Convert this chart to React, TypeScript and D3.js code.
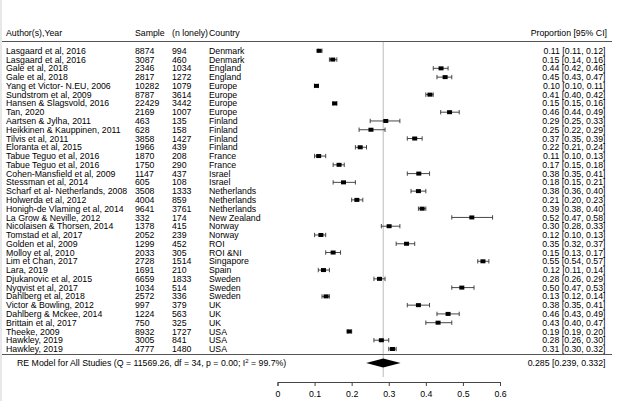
import { useEffect, useRef } from "react";
import * as d3 from "d3";

// study table
const authors = [
  "Lasgaard et al, 2016", "Lasgaard et al, 2016", "Gale et al, 2018", "Gale et al, 2018",
  "Yang et Victor- N.EU, 2006", "Sundstrom et al, 2009", "Hansen & Slagsvold, 2016", "Tan, 2020",
  "Aartsen & Jylha, 2011", "Heikkinen & Kauppinen, 2011", "Tilvis et al, 2011", "Eloranta et al, 2015",
  "Tabue Teguo et al, 2016", "Tabue Teguo et al, 2016", "Cohen-Mansfield et al, 2009", "Stessman et al, 2014",
  "Scharf et al- Netherlands, 2008", "Holwerda et al, 2012", "Honigh-de Vlaming et al, 2014", "La Grow & Neville, 2012",
  "Nicolaisen & Thorsen, 2014", "Tomstad et al, 2017", "Golden et al, 2009", "Molloy et al, 2010",
  "Lim et Chan, 2017", "Lara, 2019", "Djukanovic et al, 2015", "Nyqvist et al, 2017",
  "Dahlberg et al, 2018", "Victor & Bowling, 2012", "Dahlberg & Mckee, 2014", "Brittain et al, 2017",
  "Theeke, 2009", "Hawkley, 2019", "Hawkley, 2019",
];
const samples = [
  8874, 3087, 2346, 2817, 10282, 8787, 22429, 2169, 463, 628, 3858, 1966, 1870, 1750, 1147, 605, 3508, 4004,
  9641, 332, 1378, 2052, 1299, 2033, 2728, 1691, 6659, 1034, 2572, 997, 1224, 750, 8932, 3005, 4777,
];
const nLonely = [
  994, 460, 1034, 1272, 1079, 3614, 3442, 1007, 135, 158, 1427, 439, 208, 290, 437, 108, 1333, 859,
  3761, 174, 415, 239, 452, 305, 1514, 210, 1833, 514, 336, 379, 563, 325, 1727, 841, 1480,
];
const countries = [
  "Denmark", "Denmark", "England", "England", "Europe", "Europe", "Europe", "Europe", "Finland", "Finland",
  "Finland", "Finland", "France", "France", "Israel", "Israel", "Netherlands", "Netherlands", "Netherlands",
  "New Zealand", "Norway", "Norway", "ROI", "ROI &NI", "Singapore", "Spain", "Sweden", "Sweden", "Sweden",
  "UK", "UK", "UK", "USA", "USA", "USA",
];
const estimates = [
  0.112, 0.149, 0.441, 0.452, 0.105, 0.411, 0.154, 0.464, 0.292, 0.252, 0.37, 0.223, 0.111, 0.166, 0.381, 0.178,
  0.38, 0.214, 0.39, 0.524, 0.301, 0.117, 0.348, 0.15, 0.554, 0.124, 0.275, 0.497, 0.131, 0.38, 0.46, 0.433,
  0.193, 0.28, 0.31,
];
const lower = [
  0.11, 0.14, 0.42, 0.43, 0.1, 0.4, 0.15, 0.44, 0.25, 0.22, 0.35, 0.21, 0.1, 0.15, 0.35, 0.15, 0.36, 0.2, 0.38,
  0.47, 0.28, 0.1, 0.32, 0.13, 0.54, 0.11, 0.26, 0.47, 0.12, 0.35, 0.43, 0.4, 0.19, 0.26, 0.3,
];
const upper = [
  0.12, 0.16, 0.46, 0.47, 0.11, 0.42, 0.16, 0.49, 0.33, 0.29, 0.39, 0.24, 0.13, 0.18, 0.41, 0.21, 0.4, 0.23, 0.4,
  0.58, 0.33, 0.13, 0.37, 0.17, 0.57, 0.14, 0.29, 0.53, 0.14, 0.41, 0.49, 0.47, 0.2, 0.3, 0.32,
];
const pooled = { est: 0.285, lb: 0.239, ub: 0.332 };
const summaryLabel = "RE Model for All Studies (Q = 11569.26, df = 34, p = 0.00; I";
const xTicks = [0, 0.1, 0.2, 0.3, 0.4, 0.5, 0.6];

function App() {
  const ref = useRef<SVGSVGElement>(null);

  useEffect(() => {
    const svg = d3.select(ref.current);
    svg.selectAll("*").remove();
    const font = "'Liberation Sans', Arial, sans-serif";
    const fs = 8.75;

    const x = d3.scaleLinear().domain([0, 0.6]).range([277.5, 500]);
    const y = d3.scaleLinear().domain([0, authors.length - 1]).range([50.8, 349]);
    const headerY = 33;
    const topLine = 41.5;
    const bottomLine = 354.5;
    const reY = 363;
    const axisY = 382;
    const f2 = d3.format(".2f");

    const g = svg.append("g").style("font-family", font).style("font-size", fs + "px");

    // faint left border
    g.append("line").attr("x1", 1).attr("x2", 1).attr("y1", 0).attr("y2", 401)
      .attr("stroke", "#d0d0d0").attr("stroke-width", 1);

    // header
    const heads: [string, number, string][] = [
      ["Author(s),Year", 6, "start"], ["Sample", 135, "start"], ["(n lonely)", 172, "start"],
      ["Country", 209, "start"], ["Proportion [95% CI]", 607, "end"],
    ];
    heads.forEach(([t, hx, anchor]) => {
      g.append("text").attr("x", hx).attr("y", headerY).attr("dy", "0.35em")
        .attr("text-anchor", anchor).attr("fill", "#000").text(t);
    });

    g.append("line").attr("x1", 2).attr("x2", 612).attr("y1", topLine).attr("y2", topLine)
      .attr("stroke", "#555").attr("stroke-width", 1);
    g.append("line").attr("x1", 2).attr("x2", 612).attr("y1", bottomLine).attr("y2", bottomLine)
      .attr("stroke", "#555").attr("stroke-width", 1);

    // reference line at pooled estimate
    g.append("line").attr("x1", x(pooled.est)).attr("x2", x(pooled.est))
      .attr("y1", topLine).attr("y2", 377)
      .attr("stroke", "#777").attr("stroke-width", 1).attr("stroke-dasharray", "1,1");

    const idx = d3.range(authors.length);
    const cols: [(i: number) => string, number][] = [
      [(i) => authors[i], 6], [(i) => String(samples[i]), 135],
      [(i) => String(nLonely[i]), 172], [(i) => countries[i], 209],
    ];
    cols.forEach(([fn, cx]) => {
      g.selectAll(null).data(idx).enter().append("text")
        .attr("x", cx).attr("y", (i) => y(i)).attr("dy", "0.35em").attr("fill", "#000")
        .text((i) => fn(i));
    });
    g.selectAll(null).data(idx).enter().append("text")
      .attr("x", 605.5).attr("y", (i) => y(i)).attr("dy", "0.35em").attr("text-anchor", "end")
      .attr("fill", "#000")
      .text((i) => `${f2(estimates[i])} [${f2(lower[i])}, ${f2(upper[i])}]`);

    // CIs
    const ci = g.append("g").attr("stroke", "#333").attr("stroke-width", 0.9);
    ci.selectAll(null).data(idx).enter().append("line")
      .attr("x1", (i) => x(lower[i])).attr("x2", (i) => x(upper[i]))
      .attr("y1", (i) => y(i)).attr("y2", (i) => y(i));
    [lower, upper].forEach((arr) => {
      ci.selectAll(null).data(idx).enter().append("line")
        .attr("x1", (i) => x(arr[i])).attr("x2", (i) => x(arr[i]))
        .attr("y1", (i) => y(i) - 2.2).attr("y2", (i) => y(i) + 2.2);
    });
    g.selectAll(null).data(idx).enter().append("rect")
      .attr("x", (i) => x(estimates[i]) - 2.5).attr("y", (i) => y(i) - 2)
      .attr("width", 5).attr("height", 4).attr("fill", "#000");

    // pooled diamond
    const dPts: [number, number][] = [
      [x(pooled.lb), reY], [x(pooled.est), reY - 4.6], [x(pooled.ub), reY], [x(pooled.est), reY + 4.6],
    ];
    g.append("path").attr("d", d3.line()(dPts) + "Z").attr("fill", "#000");

    const re = g.append("text").attr("x", 17).attr("y", reY).attr("dy", "0.35em").attr("fill", "#000");
    re.append("tspan").text(summaryLabel);
    re.append("tspan").attr("dy", "-3").style("font-size", "6px").text("2");
    re.append("tspan").attr("dy", "3").text(" = 99.7%)");

    g.append("text").attr("x", 605.5).attr("y", reY).attr("dy", "0.35em").attr("text-anchor", "end")
      .attr("fill", "#000")
      .text(`${d3.format(".3f")(pooled.est)} [${d3.format(".3f")(pooled.lb)}, ${d3.format(".3f")(pooled.ub)}]`);

    // x axis
    const axis = g.append("g").attr("transform", `translate(0,${axisY})`)
      .call(d3.axisBottom(x).tickValues(xTicks).tickSize(4).tickPadding(5).tickFormat((d) => String(d)));
    axis.selectAll("path, line").attr("stroke", "#444");
    axis.selectAll("text").attr("fill", "#000").style("font-family", font).style("font-size", fs + "px");
  }, []);

  return (
    <svg
      ref={ref}
      width={620}
      height={401}
      style={{ position: "absolute", left: 0, top: 0, background: "#fff" }}
    />
  );
}

export default App;
